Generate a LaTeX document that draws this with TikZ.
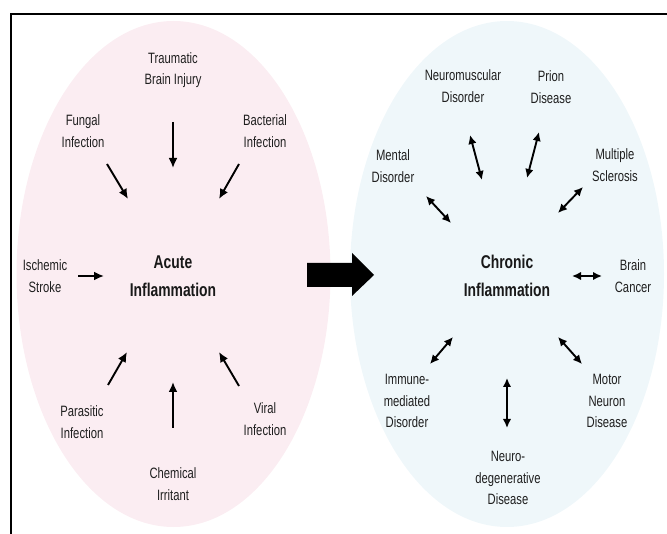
\documentclass[tikz,border=0pt]{standalone}
\usepackage{fontspec}
\setmainfont[FakeStretch=0.75]{Liberation Sans}
\usepackage{xcolor}
\usepackage{tikz}
\usetikzlibrary{arrows.meta,positioning}
\definecolor{acutepink}{RGB}{251,237,242}
\definecolor{chronicblue}{RGB}{239,247,250}

\begin{document}
\begin{tikzpicture}[x=1pt,y=1pt,yscale=-1,
  lbl/.style={align=center,text=black!88,inner sep=0pt,font=\fontsize{15}{21.5}\selectfont},
  hub/.style={align=center,text=black!90,inner sep=0pt,font=\fontsize{18.5}{28}\selectfont\bfseries},
  cause/.style={line width=1.9pt,-{Latex[length=10pt,width=9pt]}},
  link/.style={line width=1.9pt,{Latex[length=9pt,width=8.5pt]}-{Latex[length=9pt,width=8.5pt]}}]
\useasboundingbox (0,0) rectangle (667,534);

%Ellipses
\fill [acutepink] (173.5,274) ellipse [x radius=157, y radius=253];
\fill [chronicblue] (507,274) ellipse [x radius=157, y radius=253];
%Frame
\draw [line width=2pt] (667,14) -- (11,14) -- (11,534);
%Big Right Arrow
\fill [black] (307,263) -- (352,263) -- (352,253) -- (374,275) -- (352,296) -- (352,287) -- (307,287) -- cycle;

% Text Node
\node (acute) at (173,276) [hub] {Acute\\Inflammation};
% Text Node
\node (tbi) at (173,70) [lbl] {Traumatic\\Brain Injury};
% Text Node
\node (fungal) at (83,131) [lbl] {Fungal\\Infection};
% Text Node
\node (bacterial) at (265,131) [lbl] {Bacterial\\Infection};
% Text Node
\node (ischemic) at (45,276) [lbl] {Ischemic\\Stroke};
% Text Node
\node (parasitic) at (82,422) [lbl] {Parasitic\\Infection};
% Text Node
\node (chemical) at (173,484) [lbl] {Chemical\\Irritant};
% Text Node
\node (viral) at (265,419) [lbl] {Viral\\Infection};

% Text Node
\node (chronic) at (507,276) [hub] {Chronic\\Inflammation};
% Text Node
\node (neuromuscular) at (463,86) [lbl] {Neuromuscular\\Disorder};
% Text Node
\node (prion) at (551,87) [lbl] {Prion\\Disease};
% Text Node
\node (mental) at (393,166) [lbl] {Mental\\Disorder};
% Text Node
\node (multiple) at (615,165) [lbl] {Multiple\\Sclerosis};
% Text Node
\node (brain) at (633,276) [lbl] {Brain\\Cancer};
% Text Node
\node (immune) at (407,401) [lbl] {Immune-\\mediated\\Disorder};
% Text Node
\node (motor) at (607,401) [lbl] {Motor\\Neuron\\Disease};
% Text Node
\node (neuro) at (508,478) [lbl] {Neuro-\\degenerative\\Disease};

%Arrow ends, acute side
\coordinate (tbi-a) at (173,122);  \coordinate (tbi-b) at (173,168);
\coordinate (fungal-a) at (107,164);  \coordinate (fungal-b) at (128,199);
\coordinate (bacterial-a) at (239,164);  \coordinate (bacterial-b) at (219,199);
\coordinate (ischemic-a) at (78,276);  \coordinate (ischemic-b) at (104,276);
\coordinate (parasitic-a) at (108,385);  \coordinate (parasitic-b) at (127,352);
\coordinate (chemical-a) at (173,428);  \coordinate (chemical-b) at (173,382);
\coordinate (viral-a) at (239,386);  \coordinate (viral-b) at (219,352);
%Arrow ends, chronic side
\coordinate (neuromuscular-a) at (470,135);  \coordinate (neuromuscular-b) at (482,180);
\coordinate (prion-a) at (539,132);  \coordinate (prion-b) at (527,178);
\coordinate (mental-a) at (426,196);  \coordinate (mental-b) at (451,223);
\coordinate (multiple-a) at (583,187);  \coordinate (multiple-b) at (558,213);
\coordinate (brain-a) at (602,276);  \coordinate (brain-b) at (572,276);
\coordinate (immune-a) at (430,364);  \coordinate (immune-b) at (453,337);
\coordinate (motor-a) at (582,364);  \coordinate (motor-b) at (558,337);
\coordinate (neuro-a) at (507,428);  \coordinate (neuro-b) at (507,378);

%Single Arrows
\draw [cause] (tbi-a) -- (tbi-b);
\draw [cause] (fungal-a) -- (fungal-b);
\draw [cause] (bacterial-a) -- (bacterial-b);
\draw [cause] (ischemic-a) -- (ischemic-b);
\draw [cause] (parasitic-a) -- (parasitic-b);
\draw [cause] (chemical-a) -- (chemical-b);
\draw [cause] (viral-a) -- (viral-b);
%Double Arrows
\draw [link] (neuromuscular-a) -- (neuromuscular-b);
\draw [link] (prion-a) -- (prion-b);
\draw [link] (mental-a) -- (mental-b);
\draw [link] (multiple-a) -- (multiple-b);
\draw [link] (brain-a) -- (brain-b);
\draw [link] (immune-a) -- (immune-b);
\draw [link] (motor-a) -- (motor-b);
\draw [link] (neuro-a) -- (neuro-b);

\end{tikzpicture}
\end{document}
